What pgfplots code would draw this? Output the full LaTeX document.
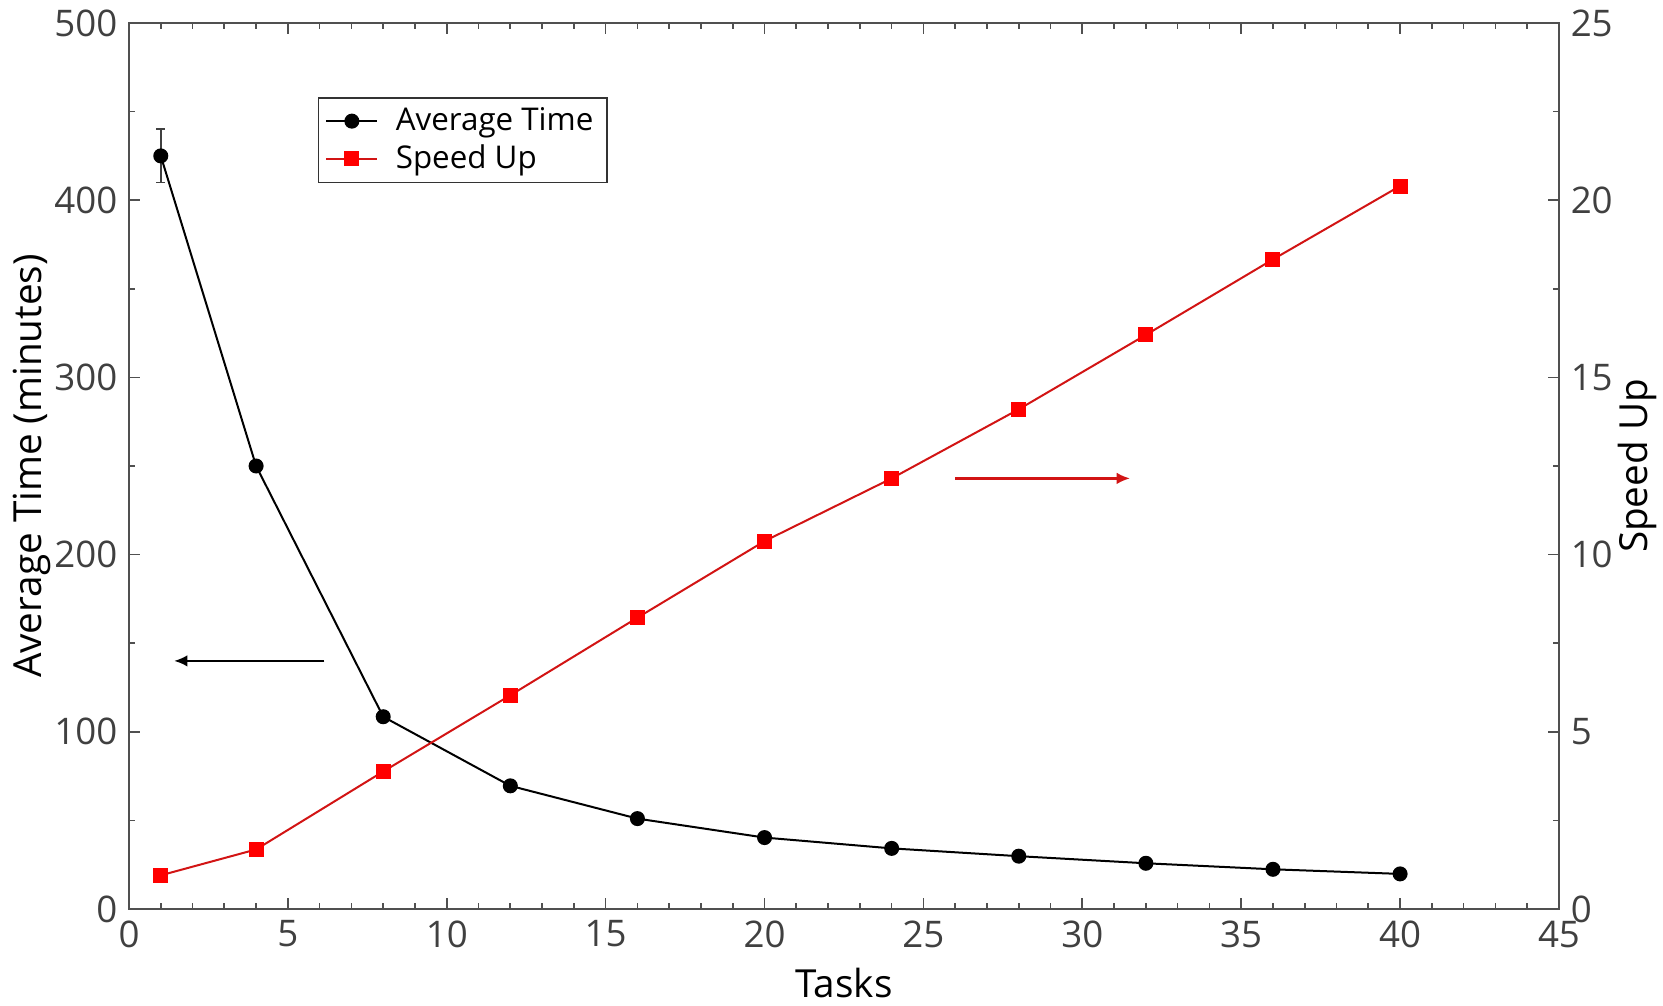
\documentclass[border=0pt]{standalone}
\usepackage{fontspec}
\setmainfont{Open Sans}
\usepackage{pgfplots}
\pgfplotsset{compat=1.18}
\usetikzlibrary{arrows.meta}
\definecolor{axgray}{RGB}{80,80,80}
\definecolor{lblgray}{RGB}{64,64,64}
\definecolor{lred}{RGB}{210,20,20}

\pgfplotstableread{
x y e
1 425 15
4 250 0
8 108.5 0
12 69.5 0
16 51 0
20 40.3 0
24 34.2 0
28 29.8 0
32 25.8 0
36 22.4 0
40 19.8 0
}\timetable

\pgfplotstableread{
x y
1 0.95
4 1.68
8 3.88
12 6.03
16 8.22
20 10.38
24 12.15
28 14.1
32 16.2
36 18.33
40 20.4
}\speedtable

\begin{document}
\begin{tikzpicture}
\path[use as bounding box] (-38.7pt,-29.1pt) rectangle (460.2pt,272.7pt);
\pgfplotsset{
  common/.style={
    width=429pt, height=265.8pt, scale only axis,
    xmin=0, xmax=45,
    /pgf/number format/assume math mode=true,
    tick align=inside,
    major tick length=3.3pt, minor tick length=1.8pt,
    every tick/.style={axgray, line width=0.5pt},
    axis line style={axgray, line width=0.6pt},
    tick label style={font=\fontsize{11}{13}\selectfont, text=lblgray},
    label style={font=\fontsize{11.6}{14}\selectfont, text=black},
  }
}
\begin{axis}[common,
  ymin=0, ymax=500,
  xtick={0,5,...,45}, minor x tick num=4,
  ytick={0,100,...,500}, minor y tick num=1,
  xtick pos=both, ytick pos=left,
  xlabel={Tasks},
  ylabel={Average Time (minutes)},
  xlabel style={at={(axis description cs:0.5,-0.084)}, anchor=center},
  ylabel style={at={(axis description cs:-0.068,0.5)}, anchor=center},
]
\addplot[black, line width=0.6pt, mark=*, mark size=1.95pt, mark options={solid, fill=black},
  error bars/.cd, y dir=both, y explicit,
  error bar style={lblgray, line width=0.5pt},
  error mark options={rotate=90, mark size=1.3pt, lblgray, line width=0.5pt}]
  table[x=x, y=y, y error=e] {\timetable};
\draw[black, line width=0.7pt, -{Latex[length=4pt,width=3.5pt]}] (axis cs:6.15,140) -- (axis cs:1.42,140);
\end{axis}
\begin{axis}[common,
  ymin=0, ymax=25,
  axis x line=none, axis y line*=right,
  ytick={0,5,...,25}, minor y tick num=1,
  ylabel={Speed Up},
  ylabel style={at={(axis description cs:1.055,0.5)}, anchor=center},
  legend style={at={(rel axis cs:0.132,0.9165)}, anchor=north west,
    draw=black!80, line width=0.5pt, font=\fontsize{9.4}{11}\selectfont,
    inner xsep=2pt, inner ysep=0.8pt, row sep=-1.2pt,
    /tikz/every odd column/.append style={column sep=3.2pt}},
  legend cell align=left,
  legend image code/.code={\draw[mark repeat=2,mark phase=2] plot coordinates {(0cm,0cm)(0.27cm,0cm)(0.54cm,0cm)};},
]
\addlegendimage{black, line width=0.6pt, mark=*, mark size=1.95pt, mark options={solid, fill=black}}
\addlegendentry{Average Time}
\addplot[lred, line width=0.6pt, mark=square*, mark size=1.95pt, mark options={solid, fill=red, draw=red}]
  table[x=x, y=y] {\speedtable};
\addlegendentry{Speed Up}
\draw[lred, line width=0.7pt, -{Latex[length=4pt,width=3.5pt]}] (axis cs:26,12.15) -- (axis cs:31.5,12.15);
\end{axis}
\end{tikzpicture}
\end{document}
